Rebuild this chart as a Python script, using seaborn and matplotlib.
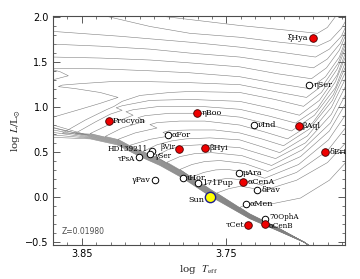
import numpy as np
import pandas as pd
import matplotlib
matplotlib.use("Agg")
import matplotlib.pyplot as plt
import seaborn as sns
from matplotlib.ticker import MultipleLocator, FixedLocator, FuncFormatter

sns.set_theme(style="ticks")
plt.rcParams["font.family"] = ["DejaVu Sans"]
plt.rcParams["mathtext.fontset"] = "stix"

# ---------------- evolutionary tracks (log Teff, log L/Lsun) ----------------
track_logteff = [
    [3.6912, 3.6960, 3.7132, 3.7339, 3.7408, 3.7367, 3.7298, 3.7243, 3.7188, 3.6988, 3.6788, 3.6650],
    [3.6912, 3.6960, 3.7132, 3.7339, 3.7477, 3.7567, 3.7484, 3.7401, 3.7326, 3.7257, 3.7015, 3.6801, 3.6650],
    [3.6912, 3.6960, 3.7132, 3.7339, 3.7477, 3.7615, 3.7657, 3.7574, 3.7491, 3.7374, 3.7257, 3.7015, 3.6801, 3.6650],
    [3.6912, 3.6960, 3.7132, 3.7339, 3.7477, 3.7615, 3.7739, 3.7657, 3.7574, 3.7491, 3.7353, 3.7236, 3.7001, 3.6794, 3.6650],
    [3.6912, 3.6960, 3.7132, 3.7339, 3.7477, 3.7615, 3.7822, 3.7739, 3.7650, 3.7546, 3.7374, 3.7215, 3.6988, 3.6788, 3.6650],
    [3.6912, 3.6960, 3.7132, 3.7339, 3.7477, 3.7615, 3.7801, 3.7912, 3.7822, 3.7719, 3.7601, 3.7394, 3.7188, 3.6974, 3.6781, 3.6650],
    [3.6912, 3.6960, 3.7132, 3.7339, 3.7477, 3.7615, 3.7801, 3.7994, 3.7905, 3.7801, 3.7684, 3.7408, 3.7160, 3.6953, 3.6774, 3.6650],
    [3.6912, 3.6960, 3.7132, 3.7339, 3.7477, 3.7615, 3.7801, 3.7960, 3.8077, 3.7981, 3.7877, 3.7781, 3.7615, 3.7408, 3.7257, 3.7132, 3.6940, 3.6774, 3.6650],
    [3.6912, 3.6960, 3.7132, 3.7339, 3.7477, 3.7615, 3.7801, 3.7960, 3.8098, 3.8167, 3.8029, 3.7891, 3.7939, 3.7891, 3.7753, 3.7581, 3.7408, 3.7257, 3.7105, 3.6926, 3.6767, 3.6650],
    [3.6912, 3.6960, 3.7132, 3.7339, 3.7477, 3.7615, 3.7801, 3.7960, 3.8098, 3.8250, 3.8132, 3.7981, 3.8029, 3.7981, 3.7822, 3.7650, 3.7408, 3.7236, 3.7077, 3.6905, 3.6760, 3.6650],
    [3.6912, 3.6960, 3.7132, 3.7339, 3.7477, 3.7615, 3.7801, 3.7960, 3.8098, 3.8257, 3.8339, 3.8222, 3.8063, 3.8112, 3.8063, 3.7891, 3.7684, 3.7408, 3.7215, 3.7050, 3.6891, 3.6746, 3.6650],
    [3.6912, 3.6960, 3.7132, 3.7339, 3.7477, 3.7615, 3.7801, 3.7960, 3.8098, 3.8257, 3.8443, 3.8319, 3.8146, 3.8195, 3.8146, 3.7960, 3.7684, 3.7408, 3.7201, 3.7022, 3.6870, 3.6746, 3.6650],
    [3.6912, 3.6960, 3.7132, 3.7339, 3.7477, 3.7615, 3.7801, 3.7960, 3.8098, 3.8257, 3.8443, 3.8546, 3.8408, 3.8305, 3.8222, 3.8263, 3.8222, 3.8029, 3.7753, 3.7408, 3.7188, 3.6995, 3.6857, 3.6733, 3.6650],
    [3.6912, 3.6960, 3.7132, 3.7339, 3.7477, 3.7615, 3.7801, 3.7960, 3.8098, 3.8257, 3.8443, 3.8636, 3.8477, 3.8339, 3.8277, 3.8222, 3.8098, 3.7891, 3.7753, 3.7408, 3.7167, 3.6967, 3.6843, 3.6733, 3.6650],
    [3.6912, 3.6960, 3.7132, 3.7339, 3.7477, 3.7615, 3.7801, 3.7960, 3.8098, 3.8257, 3.8443, 3.8581, 3.8753, 3.8698, 3.8512, 3.8374, 3.8250, 3.8374, 3.8546, 3.8663, 3.8636, 3.8512, 3.8305, 3.8029, 3.7753, 3.7408, 3.7167, 3.6946, 3.6829, 3.6726, 3.6650],
    [3.6912, 3.6960, 3.7132, 3.7339, 3.7477, 3.7615, 3.7801, 3.7960, 3.8098, 3.8257, 3.8443, 3.8698, 3.8857, 3.8788, 3.8698, 3.8594, 3.8650, 3.8698, 3.8753, 3.8698, 3.8374, 3.8029, 3.7753, 3.7408, 3.7146, 3.6926, 3.6815, 3.6719, 3.6650],
    [3.6912, 3.6960, 3.7132, 3.7339, 3.7477, 3.7615, 3.7801, 3.7960, 3.8098, 3.8257, 3.8443, 3.8698, 3.8857, 3.8788, 3.8698, 3.8374, 3.8029, 3.7753, 3.7408, 3.7146, 3.6912, 3.6808, 3.6719, 3.6650],
    [3.6912, 3.6960, 3.7132, 3.7339, 3.7477, 3.7615, 3.7801, 3.7960, 3.8098, 3.8257, 3.8443, 3.8698, 3.8857, 3.8788, 3.8698, 3.8374, 3.8029, 3.7753, 3.7408, 3.7132, 3.6898, 3.6802, 3.6712, 3.6650],
    [3.6912, 3.6960, 3.7132, 3.7339, 3.7477, 3.7615, 3.7801, 3.7960, 3.8098, 3.8257, 3.8443, 3.8698, 3.8857, 3.8788, 3.8698, 3.8236, 3.7753, 3.7408, 3.7132, 3.6884, 3.6788, 3.6705, 3.6650],
    [3.6912, 3.6960, 3.7132, 3.7339, 3.7477, 3.7615, 3.7801, 3.7960, 3.8098, 3.8257, 3.8443, 3.8698, 3.8857, 3.8926, 3.8408, 3.8029, 3.7753, 3.7408, 3.7132, 3.6870, 3.6781, 3.6705, 3.6650],
    [3.6912, 3.6960, 3.7132, 3.7339, 3.7477, 3.7615, 3.7801, 3.7960, 3.8098, 3.8257, 3.8443, 3.8698, 3.8857, 3.8926, 3.8098, 3.7926, 3.7753, 3.7408, 3.7132, 3.6870, 3.6802, 3.6746, 3.6719],
]
track_logl = [
    [-0.556, -0.501, -0.348, -0.183, -0.112, -0.084, -0.068, -0.063, -0.073, -0.008, 0.190, 0.431],
    [-0.556, -0.501, -0.349, -0.186, -0.044, 0.048, 0.096, 0.124, 0.102, 0.069, 0.190, 0.387, 0.650],
    [-0.556, -0.501, -0.351, -0.189, -0.048, 0.093, 0.139, 0.190, 0.212, 0.190, 0.135, 0.277, 0.519, 0.826],
    [-0.556, -0.501, -0.353, -0.191, -0.051, 0.089, 0.227, 0.277, 0.305, 0.310, 0.277, 0.212, 0.365, 0.639, 0.979],
    [-0.556, -0.501, -0.354, -0.194, -0.055, 0.084, 0.310, 0.365, 0.398, 0.409, 0.376, 0.288, 0.453, 0.738, 1.111],
    [-0.556, -0.501, -0.356, -0.197, -0.059, 0.080, 0.286, 0.390, 0.453, 0.486, 0.497, 0.464, 0.354, 0.530, 0.826, 1.220],
    [-0.556, -0.501, -0.358, -0.200, -0.062, 0.076, 0.281, 0.456, 0.530, 0.574, 0.584, 0.552, 0.431, 0.606, 0.924, 1.319],
    [-0.556, -0.501, -0.359, -0.202, -0.066, 0.071, 0.276, 0.425, 0.509, 0.584, 0.628, 0.650, 0.661, 0.639, 0.563, 0.497, 0.683, 1.001, 1.407],
    [-0.556, -0.501, -0.361, -0.205, -0.069, 0.067, 0.271, 0.420, 0.519, 0.579, 0.645, 0.683, 0.722, 0.743, 0.749, 0.749, 0.716, 0.650, 0.574, 0.760, 1.078, 1.484],
    [-0.556, -0.501, -0.362, -0.208, -0.073, 0.063, 0.266, 0.415, 0.513, 0.645, 0.716, 0.771, 0.809, 0.831, 0.848, 0.848, 0.804, 0.727, 0.650, 0.826, 1.144, 1.549],
    [-0.556, -0.501, -0.364, -0.211, -0.076, 0.058, 0.261, 0.409, 0.508, 0.645, 0.677, 0.771, 0.848, 0.886, 0.908, 0.935, 0.935, 0.892, 0.815, 0.738, 0.913, 1.220, 1.615],
    [-0.556, -0.501, -0.366, -0.213, -0.080, 0.054, 0.256, 0.404, 0.502, 0.639, 0.709, 0.804, 0.913, 0.952, 0.974, 1.012, 1.012, 0.979, 0.902, 0.826, 0.990, 1.286, 1.670],
    [-0.556, -0.501, -0.367, -0.216, -0.083, 0.049, 0.251, 0.398, 0.497, 0.633, 0.703, 0.712, 0.837, 0.924, 0.968, 0.996, 1.018, 1.078, 1.089, 1.067, 0.990, 0.913, 1.078, 1.363, 1.725],
    [-0.556, -0.501, -0.369, -0.219, -0.087, 0.045, 0.246, 0.393, 0.491, 0.627, 0.696, 0.713, 0.859, 0.968, 1.012, 1.067, 1.133, 1.166, 1.177, 1.166, 1.089, 1.012, 1.166, 1.429, 1.769],
    [-0.556, -0.501, -0.371, -0.222, -0.091, 0.041, 0.241, 0.387, 0.486, 0.621, 0.690, 0.727, 0.793, 0.892, 0.979, 1.045, 1.111, 1.166, 1.209, 1.231, 1.248, 1.264, 1.286, 1.286, 1.275, 1.253, 1.177, 1.111, 1.253, 1.495, 1.813],
    [-0.556, -0.501, -0.372, -0.224, -0.094, 0.036, 0.236, 0.382, 0.480, 0.615, 0.683, 0.804, 0.881, 1.308, 1.308, 1.352, 1.396, 1.418, 1.429, 1.434, 1.429, 1.407, 1.385, 1.341, 1.264, 1.209, 1.341, 1.560, 1.856],
    [-0.556, -0.501, -0.374, -0.227, -0.098, 0.032, 0.231, 0.376, 0.475, 0.609, 0.677, 0.776, 0.837, 1.560, 1.560, 1.549, 1.527, 1.495, 1.451, 1.374, 1.319, 1.440, 1.637, 1.900],
    [-0.556, -0.501, -0.376, -0.230, -0.101, 0.027, 0.226, 0.371, 0.469, 0.603, 0.670, 0.749, 0.793, 1.703, 1.703, 1.681, 1.648, 1.604, 1.560, 1.495, 1.440, 1.538, 1.714, 1.944],
    [-0.556, -0.501, -0.377, -0.233, -0.105, 0.023, 0.222, 0.365, 0.464, 0.597, 0.663, 0.722, 0.749, 1.845, 1.845, 1.791, 1.725, 1.670, 1.615, 1.560, 1.648, 1.791, 1.988],
    [-0.556, -0.501, -0.379, -0.235, -0.108, 0.019, 0.217, 0.360, 0.458, 0.591, 0.657, 0.694, 0.705, 2.131, 2.043, 1.900, 1.824, 1.780, 1.725, 1.681, 1.747, 1.878, 2.032],
    [-0.556, -0.501, -0.381, -0.238, -0.112, 0.014, 0.212, 0.354, 0.453, 0.584, 0.650, 0.667, 0.661, 2.131, 2.098, 2.010, 1.977, 1.911, 1.867, 1.824, 1.889, 2.010, 2.131],
]

# ---------------- stars ----------------
star_names = ["Procyon", "ηBoo", "ξHya", "ηSer", "βAql", "νInd", "δEri", "αFor",
              "βVir", "βHyi", "HD139211", "γSer", "τPsA", "γPav", "ιHor", "171Pup",
              "Sun", "μAra", "αCenA", "δPav", "αMen", "70OphA", "αCenB", "τCet"]
star_logteff = [3.8314, 3.7703, 3.6903, 3.6926, 3.7001, 3.7312, 3.6817, 3.7907,
                3.7827, 3.7648, 3.8017, 3.8027, 3.8103, 3.7994, 3.7803, 3.7696,
                3.7617, 3.7415, 3.7385, 3.7286, 3.7367, 3.7234, 3.7234, 3.7348]
star_logl = [0.851, 0.943, 1.772, 1.253, 0.793, 0.800, 0.508, 0.694,
             0.533, 0.548, 0.515, 0.478, 0.450, 0.193, 0.219, 0.160,
             0.000, 0.266, 0.175, 0.080, -0.073, -0.241, -0.300, -0.307]
star_kind = ["red", "red", "red", "open", "red", "open", "red", "open",
             "red", "red", "open", "open", "open", "open", "open", "open",
             "sun", "open", "red", "open", "open", "open", "red", "red"]
label_side = ["r", "r", "l", "r", "r", "r", "r", "r",
              "l", "r", "l", "r", "l", "l", "r", "r",
              "l", "r", "r", "r", "r", "r", "r", "l"]

# small vertical nudges (points) for crowded labels
label_nudge = {"HD139211": 1.5, "τPsA": -1.5, "βVir": 2.0, "γSer": -1.5,
               "70OphA": 1.5, "αCenB": -1.0, "Sun": -2.0}

rows = []
for k, (tt, ll) in enumerate(zip(track_logteff, track_logl)):
    for i, (t, l) in enumerate(zip(tt, ll)):
        rows.append({"track": k, "order": i, "logteff": t, "logl": l})
tracks = pd.DataFrame(rows)
stars = pd.DataFrame({"name": star_names, "logteff": star_logteff, "logl": star_logl,
                      "kind": star_kind, "side": label_side})

fig = plt.figure(figsize=(3.6, 2.79), dpi=100)
ax = fig.add_axes([0.1472, 0.1219, 0.8111, 0.8219])

sns.lineplot(data=tracks, x="logteff", y="logl", units="track", estimator=None,
             sort=False, color="0.5", linewidth=0.4, ax=ax, legend=False)

sns.scatterplot(data=stars[stars.kind == "open"], x="logteff", y="logl", s=22,
                facecolor="white", edgecolor="black", linewidth=0.7, ax=ax, zorder=4, legend=False)
sns.scatterplot(data=stars[stars.kind == "red"], x="logteff", y="logl", s=30,
                color="#ee0000", edgecolor="#400000", linewidth=0.6, ax=ax, zorder=5, legend=False)
sns.scatterplot(data=stars[stars.kind == "sun"], x="logteff", y="logl", s=55,
                color="#ffff00", edgecolor="#1c1c8c", linewidth=1.0, ax=ax, zorder=5, legend=False)

for _, r in stars.iterrows():
    dy = label_nudge.get(r["name"], 0.0)
    if r.side == "r":
        off, ha = (3.0, dy), "left"
    else:
        off, ha = (-3.0, dy), "right"
    if r["name"] == "Sun":
        off = (-3.5, dy)
    small = r["name"] in ("HD139211", "τPsA", "γSer", "βVir", "70OphA", "αCenB")
    ax.annotate(r["name"], (r.logteff, r.logl), xytext=off, textcoords="offset points",
                ha=ha, va="center", fontsize=5.2 if small else 5.8,
                family="DejaVu Serif", color="black", zorder=6)

ax.text(0.03, 0.04, "Z=0.01980", transform=ax.transAxes, fontsize=5.5,
        family="DejaVu Sans", color="0.3", ha="left", va="bottom")

ax.set_xlim(3.870, 3.668)
ax.set_ylim(-0.53, 2.02)

ax.xaxis.set_major_locator(FixedLocator([3.85, 3.75]))
ax.xaxis.set_minor_locator(MultipleLocator(0.01))
ax.yaxis.set_major_locator(MultipleLocator(0.5))
ax.yaxis.set_minor_locator(MultipleLocator(0.1))
ax.xaxis.set_major_formatter(FuncFormatter(lambda v, p: f"{v:.2f}"))
ax.yaxis.set_major_formatter(FuncFormatter(lambda v, p: f"{v:.1f}".replace("-", "\u2212")))
ax.tick_params(which="both", direction="in", top=True, right=True, colors="0.25",
               labelcolor="black", labelsize=7, pad=3)
ax.tick_params(which="major", length=5, width=0.6)
ax.tick_params(which="minor", length=2.5, width=0.5)
for s in ax.spines.values():
    s.set_linewidth(0.8)
    s.set_color("0.3")

ax.set_xlabel(r"log  $T_{\rm eff}$", fontsize=7.5, family="DejaVu Serif", labelpad=3)
ax.set_ylabel(r"log $L$/L$_{\odot}$", fontsize=7.5, family="DejaVu Serif", labelpad=2)

fig.savefig("out.png", dpi=100)
